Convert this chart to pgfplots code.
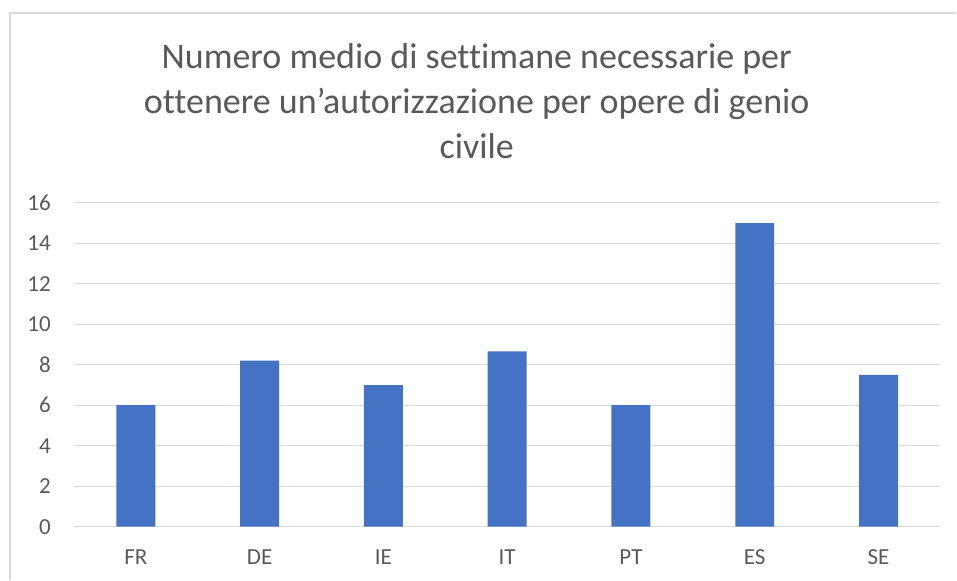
\documentclass[border=0pt]{standalone}
\usepackage{pgfplots}
\pgfplotsset{compat=1.18}
\usepackage{fontspec}
\setmainfont{Carlito}[Ligatures=CommonOff]
\definecolor{barblue}{HTML}{4472C4}
\definecolor{gridgray}{HTML}{D9D9D9}
\definecolor{txtgray}{HTML}{595959}
\begin{document}
\begin{tikzpicture}
\path (-74pt,-53pt) rectangle (883pt,527pt);
\draw[gridgray, line width=1.2pt] (-64pt,-53pt) -- (-64pt,514pt) -- (883pt,514pt);
\node[anchor=base, text=txtgray, font=\fontsize{36}{44}\selectfont] at (403pt,458pt) {Numero medio di settimane necessarie per};
\node[anchor=base, text=txtgray, font=\fontsize{36}{44}\selectfont] at (403pt,413pt) {ottenere un’autorizzazione per opere di genio};
\node[anchor=base, text=txtgray, font=\fontsize{36}{44}\selectfont] at (403pt,368pt) {civile};
\begin{axis}[
  at={(0pt,0pt)}, anchor=south west,
  scale only axis, width=867pt, height=324pt,
  xmin=-0.5, xmax=6.5, ymin=0, ymax=16,
  ytick={0,2,...,16},
  xtick={0,...,6},
  xticklabels={FR,DE,IE,IT,PT,ES,SE},
  axis line style={draw=none},
  major tick length=0pt,
  ymajorgrids, grid style={gridgray, line width=1pt},
  /pgf/number format/assume math mode=true,
  tick label style={text=txtgray, font=\fontsize{23}{26}\selectfont, inner sep=0pt},
  yticklabel style={xshift=-23pt},
  xticklabel style={anchor=north, yshift=-23pt},
  clip=false,
]
\addplot[ybar, bar width=39pt, bar shift=0pt, fill=barblue, draw=none]
  coordinates {(0,6) (1,8.2) (2,7) (3,8.66) (4,6) (5,15) (6,7.5)};
\end{axis}
\end{tikzpicture}
\end{document}
